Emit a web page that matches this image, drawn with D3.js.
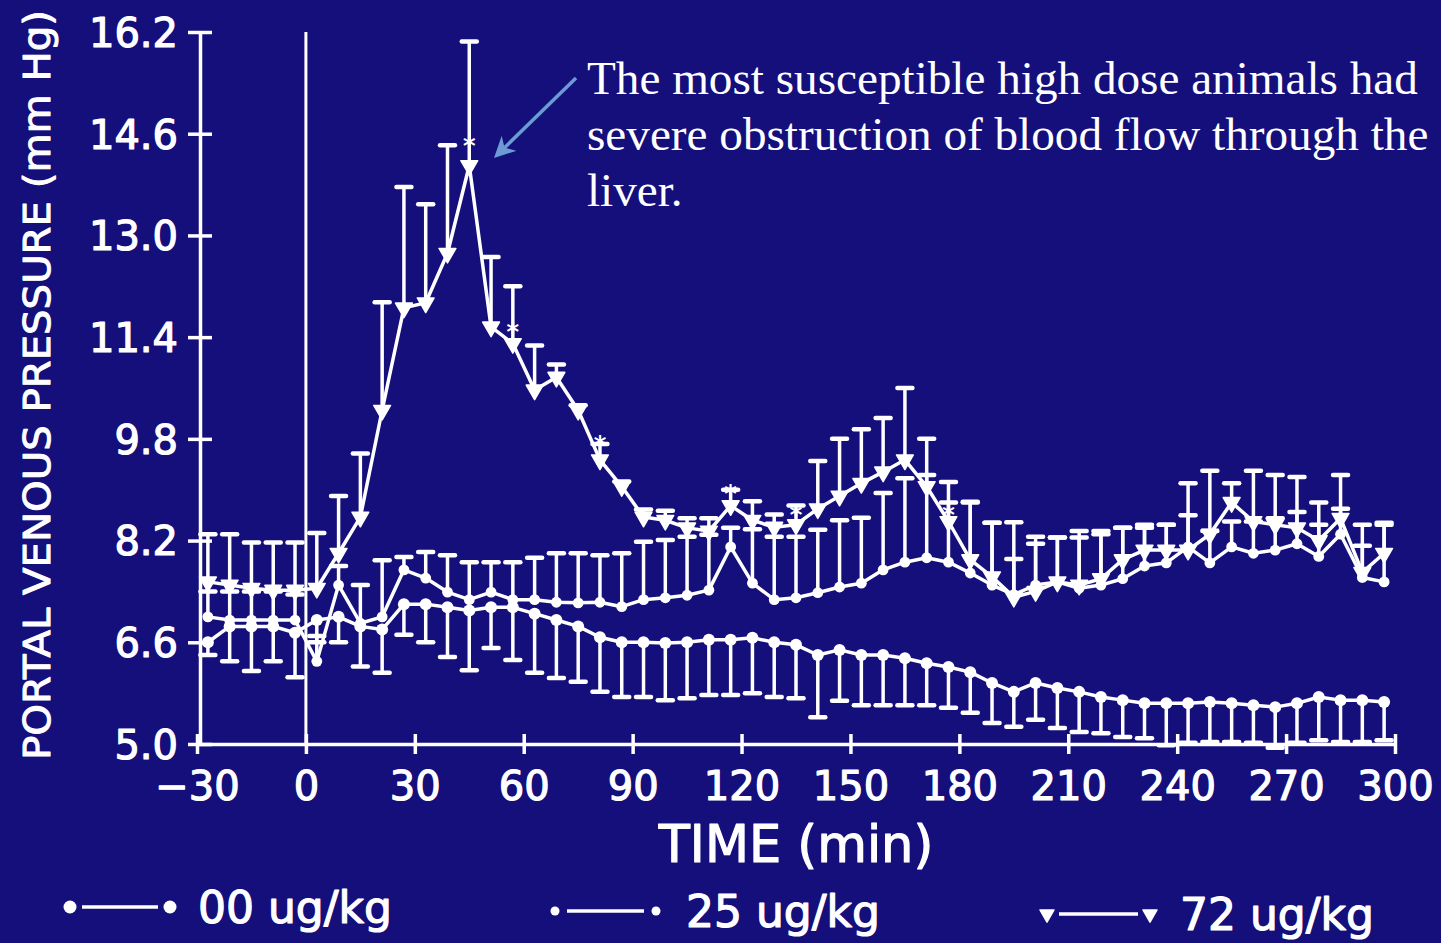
<!DOCTYPE html>
<html>
<head>
<meta charset="utf-8">
<script src="https://cdn.jsdelivr.net/npm/d3@7"></script>
<style>
  html, body { margin: 0; padding: 0; background: #150f7b; }
  svg { display: block; }
</style>
</head>
<body>
<svg id="chart" width="1441" height="943"></svg>
<script>
// Sampling times (min) relative to dosing
const times = [-27,-21,-15,-9,-3,3,9,15,21,27,33,39,45,51,57,63,69,75,81,87,93,99,105,111,117,123,129,135,141,147,153,159,165,171,177,183,189,195,201,207,213,219,225,231,237,243,249,255,261,267,273,279,285,291,297];

// 00 ug/kg: mean and SE (error bars hang below)
const dose00Mean = [6.6,6.85,6.85,6.85,6.75, 6.95,7.0,6.85,6.8,7.2, 7.2,7.15,7.1,7.15,7.15, 7.05,6.95,6.85,6.68,6.6,
  6.6,6.59,6.6,6.64,6.64, 6.67,6.6,6.56,6.4,6.48, 6.4,6.4,6.35,6.27,6.21, 6.13,5.96,5.82,5.96,5.88,
  5.82,5.74,5.69,5.64,5.64, 5.64,5.66,5.64,5.61,5.58, 5.64,5.74,5.69,5.69,5.66];
const dose00SE = [0.2,0.55,0.7,0.55,0.7, 0.35,0.4,0.63,0.68,0.48, 0.6,0.78,0.94,0.64,0.83, 0.93,0.91,0.87,0.86,0.86,
  0.86,0.9,0.88,0.87,0.87, 0.87,0.86,0.84,0.98,0.8, 0.79,0.79,0.74,0.66,0.64, 0.64,0.63,0.55,0.58,0.63,
  0.63,0.57,0.58,0.55,0.66, 0.62,0.63,0.61,0.59,0.64, 0.62,0.68,0.66,0.66,0.6];

// 25 ug/kg: mean and SE (error bars point up)
const dose25Mean = [7.0,6.95,6.95,6.95,6.95, 6.3,7.5,6.9,7.0,7.74, 7.61,7.39,7.27,7.39,7.27, 7.27,7.23,7.22,7.23,7.16,
  7.27,7.3,7.34,7.42,8.1, 7.53,7.27,7.3,7.38,7.47, 7.53,7.74,7.86,7.93,7.86, 7.69,7.5,7.35,7.5,7.55,
  7.45,7.5,7.6,7.8,7.85, 8.1,7.85,8.1,8.0,8.05, 8.15,7.95,8.3,7.62,7.55];
const dose25SE = [0.4,0.45,0.45,0.45,0.4, 0.4,0.3,0.6,0.89,0.2, 0.41,0.58,0.59,0.47,0.59, 0.66,0.77,0.78,0.74,0.84,
  0.91,0.91,0.92,0.87,0.3, 0.85,0.99,0.96,0.99,1.05, 1.03,1.21,1.32,1.3,1.26, 1.12,0.98,1.14,0.76,0.7,
  0.8,0.8,0.8,0.6,0.6, 0.5,0.5,0.4,0.5,0.5, 0.5,0.5,0.4,0.5,0.9];

// 72 ug/kg: mean and SE (error bars point up)
const dose72Mean = [7.55,7.5,7.45,7.42,7.42, 7.45,8.0,8.57,10.25,11.86, 11.94,12.72,14.1,11.56,11.3, 10.57,10.77,10.25,9.47,9.05,
  8.57,8.52,8.4,8.35,8.75, 8.52,8.41,8.45,8.7,8.9, 9.1,9.28,9.47,9.05,8.5, 7.9,7.63,7.31,7.4,7.55,
  7.5,7.6,7.9,8.05,8.05, 8.05,8.3,8.8,8.5,8.45, 8.4,8.2,8.55,7.7,8.0];
const dose72SE = [0.75,0.8,0.72,0.75,0.75, 0.87,0.9,1.0,1.7,1.9, 1.55,1.7,1.95,1.1,0.9, 0.7,0.2,0.08,0.25,0.08,
  0.12,0.15,0.15,0.2,0.25, 0.3,0.2,0.3,0.75,0.9, 0.85,0.85,1.13,0.75,0.3, 0.9,0.85,0.6,0.75,0.7,
  0.85,0.75,0.5,0.4,0.4, 1.05,1.0,0.3,0.8,0.78, 0.8,0.6,0.68,0.75,0.48];

// Significance marks on the 72 ug/kg curve
const sigTimes = [45, 57, 81, 117, 135, 177];
const sigLevels = [14.42, 11.5, 9.72, 8.95, 8.62, 8.62];

const yTicks = [5.0, 6.6, 8.2, 9.8, 11.4, 13.0, 14.6, 16.2];
const xTicks = [-30, 0, 30, 60, 90, 120, 150, 180, 210, 240, 270, 300];
const legendLabels = ["00 ug/kg", "25 ug/kg", "72 ug/kg"];
const noteLines = ["The most susceptible high dose animals had",
                   "severe obstruction of blood flow through the",
                   "liver."];

const W = 1441, H = 943;
const BG = "#150f7b", FG = "#ffffff";
const sans = "'DejaVu Sans', 'Open Sans', sans-serif";

const svg = d3.select("#chart");
svg.append("rect").attr("width", W).attr("height", H).attr("fill", BG);

const x = d3.scaleLinear().domain([-30, 300]).range([197, 1395]);
const y = d3.scaleLinear().domain([5.0, 16.2]).range([744, 32]);

// heavier white lettering for the slide typography
function heavy(sel, w) {
  return sel.attr("fill", FG).attr("stroke", FG).attr("stroke-width", w)
    .attr("stroke-linejoin", "round").style("font-family", sans);
}

// ---- axes ----
const gy = svg.append("g")
  .attr("transform", `translate(${x(-30) + 3},0)`)
  .call(d3.axisLeft(y).tickValues(yTicks).tickFormat(d3.format(".1f")).tickSizeOuter(0));
gy.select(".domain").attr("stroke", FG).attr("stroke-width", 3.5);
gy.selectAll(".tick line").attr("x1", -12).attr("x2", 12).attr("stroke", FG).attr("stroke-width", 3.5);
heavy(gy.selectAll(".tick text").attr("x", -22).attr("dy", "0.36em"), 1.2).style("font-size", "40px");

const gx = svg.append("g")
  .attr("transform", `translate(0,${y(5.0)})`)
  .call(d3.axisBottom(x).tickValues(xTicks).tickFormat(d3.format("d")).tickSizeOuter(0));
gx.select(".domain").attr("stroke", FG).attr("stroke-width", 3.5);
gx.selectAll(".tick line").attr("y1", -10).attr("y2", 10).attr("stroke", FG).attr("stroke-width", 3.5);
heavy(gx.selectAll(".tick text").attr("y", 28).attr("dy", "0.71em"), 1.2).style("font-size", "40px");

// dosing marker at t = 0
svg.append("line")
  .attr("x1", x(0)).attr("x2", x(0))
  .attr("y1", y(16.2)).attr("y2", y(5.0))
  .attr("stroke", FG).attr("stroke-width", 3);

// axis titles
heavy(svg.append("text")
  .attr("x", x(135)).attr("y", 862)
  .attr("text-anchor", "middle"), 1.2)
  .style("font-size", "51px")
  .text("TIME (min)");

heavy(svg.append("text")
  .attr("transform", "translate(50,385) rotate(-90)")
  .attr("text-anchor", "middle")
  .attr("textLength", 750).attr("lengthAdjust", "spacingAndGlyphs"), 1)
  .style("font-size", "38px")
  .text("PORTAL VENOUS PRESSURE (mm Hg)");

// ---- series ----
const series = [
  { name: legendLabels[0], mean: dose00Mean, se: dose00SE, dir: -1, shape: "dot" },
  { name: legendLabels[1], mean: dose25Mean, se: dose25SE, dir: 1, shape: "ring" },
  { name: legendLabels[2], mean: dose72Mean, se: dose72SE, dir: 1, shape: "tri" }
];

const line = d3.line().x(d => x(d.t)).y(d => y(d.m));
const capW = 7.5;

function drawMarker(g, shape, r) {
  if (shape === "tri") {
    g.append("path")
      .attr("d", d3.symbol(d3.symbolTriangle, r * r * 3.4)())
      .attr("transform", "rotate(180)")
      .attr("fill", FG).attr("stroke", FG).attr("stroke-width", 1.5).attr("stroke-linejoin", "round");
  } else {
    g.append("circle").attr("r", shape === "dot" ? r : r * 0.9).attr("fill", FG);
  }
}

series.forEach(s => {
  const pts = times.map((t, i) => ({ t, m: s.mean[i], e: s.se[i] }));
  const g = svg.append("g");

  // error bars
  const eb = g.selectAll(".eb").data(pts).join("g");
  eb.append("line")
    .attr("x1", d => x(d.t)).attr("x2", d => x(d.t))
    .attr("y1", d => y(d.m)).attr("y2", d => y(d.m + s.dir * d.e))
    .attr("stroke", FG).attr("stroke-width", 3.5);
  eb.append("line")
    .attr("x1", d => x(d.t) - capW).attr("x2", d => x(d.t) + capW)
    .attr("y1", d => y(d.m + s.dir * d.e)).attr("y2", d => y(d.m + s.dir * d.e))
    .attr("stroke", FG).attr("stroke-width", 4.5).attr("stroke-linecap", "round");

  // mean line
  g.append("path").datum(pts)
    .attr("d", line).attr("fill", "none")
    .attr("stroke", FG).attr("stroke-width", 3.5).attr("stroke-linejoin", "round");

  // markers
  g.selectAll(".mk").data(pts).join("g")
    .attr("transform", d => `translate(${x(d.t)},${y(d.m)})`)
    .each(function () { drawMarker(d3.select(this), s.shape, 6); });
});

// significance asterisks
svg.selectAll(".sig").data(sigTimes).join("text")
  .attr("x", d => x(d)).attr("y", (d, i) => y(sigLevels[i]) + 9)
  .attr("text-anchor", "middle")
  .attr("fill", FG).style("font-family", sans).style("font-size", "24px").style("font-weight", "bold")
  .text("*");

// ---- annotation ----
const note = svg.append("text")
  .attr("fill", FG).style("font-family", "'Liberation Serif', 'Times New Roman', serif").style("font-size", "47.2px");
noteLines.forEach((l, i) => {
  note.append("tspan").attr("x", 587).attr("y", 94 + i * 56).text(l);
});

const arrowColor = "#6b9bd2";
svg.append("defs").append("marker")
  .attr("id", "head").attr("viewBox", "0 0 10 10")
  .attr("refX", 8).attr("refY", 5)
  .attr("markerWidth", 6).attr("markerHeight", 6)
  .attr("markerUnits", "strokeWidth")
  .attr("orient", "auto")
  .append("path").attr("d", "M0,0 L10,5 L0,10 L3,5 Z").attr("fill", arrowColor);
svg.append("line")
  .attr("x1", 576).attr("y1", 78).attr("x2", 497).attr("y2", 155)
  .attr("stroke", arrowColor).attr("stroke-width", 3.5)
  .attr("marker-end", "url(#head)");

// ---- legend ----
const legendPos = [
  { x0: 70, x1: 170, tx: 198, y: 907 },
  { x0: 555, x1: 656, tx: 686, y: 911 },
  { x0: 1047, x1: 1150, tx: 1180, y: 914 }
];
series.forEach((s, i) => {
  const p = legendPos[i];
  const g = svg.append("g");
  g.append("line").attr("x1", p.x0 + 12).attr("x2", p.x1 - 12).attr("y1", p.y).attr("y2", p.y)
    .attr("stroke", FG).attr("stroke-width", 3.5);
  [p.x0, p.x1].forEach(cx => {
    const m = g.append("g").attr("transform", `translate(${cx},${p.y})`);
    drawMarker(m, s.shape, s.shape === "dot" ? 6.5 : 5);
  });
  heavy(g.append("text").attr("x", p.tx).attr("y", p.y + 16), 1.2)
    .style("font-size", "44px")
    .text(s.name);
});
</script>
</body>
</html>
